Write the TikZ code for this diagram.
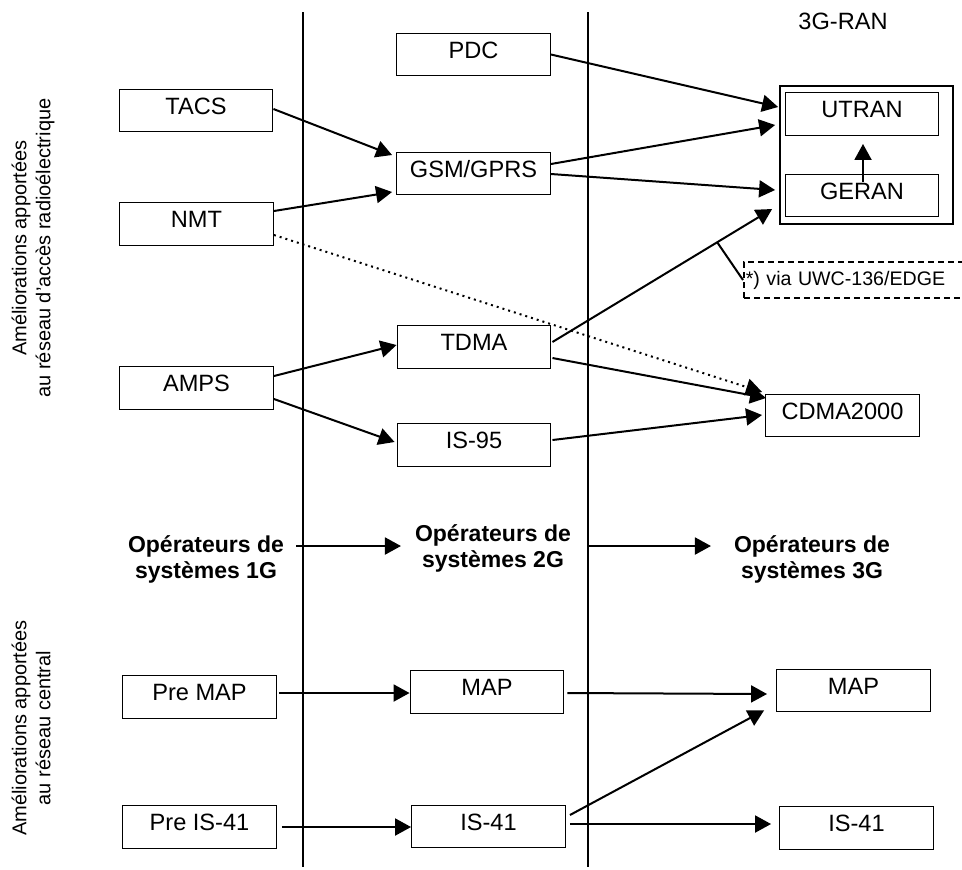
\documentclass[tikz,border=0pt]{standalone}
\usepackage{fontspec}
\setmainfont{Liberation Sans}
\usetikzlibrary{arrows.meta,calc}

\begin{document}
\begin{tikzpicture}[x=0.5pt,y=-0.5pt,
	box/.style={draw,line width=0.7pt,minimum width=76.75pt,minimum height=21.25pt,inner sep=0pt,text height=8.5pt,text depth=4.7pt,font=\fontsize{11.8}{13}\selectfont},
	arr/.style={line width=1pt,-{Triangle[length=8pt,width=8.5pt]}},
	ops/.style={align=center,font=\fontsize{11.5}{13}\selectfont\bfseries},
	side/.style={rotate=90,align=center,font=\fontsize{10}{12}\selectfont},
	note/.style={draw,dashed,dash pattern=on 3pt off 2pt,line width=0.8pt,text width=109pt,align=left,inner xsep=1pt,minimum height=18pt,font=\fontsize{9.8}{11}\selectfont}]
\useasboundingbox (0,0) rectangle (962,869);
\draw[line width=0.9pt] (303,12) -- (303,867);
\draw[line width=0.9pt] (588,12) -- (588,867);
\node[side] (radio) at (33,248) {Améliorations apportées\\au réseau d'accès radioélectrique};
\node[side] (core) at (31,728) {Améliorations apportées\\au réseau central};
% acces radio
\node[box] (tacs) at (196,110.5) {TACS};
\node[box] (nmt) at (196.5,224) {NMT};
\node[box] (amps) at (196.5,388) {AMPS};
\node[box] (pdc) at (473.5,54.5) {PDC};
\node[box] (gsm) at (473.5,173.5) {GSM/GPRS};
\node[box] (tdma) at (474,347) {TDMA};
\node[box] (is95) at (474,445) {IS-95};
\node[font=\fontsize{11.8}{13}\selectfont] (ranlbl) at (843,21) {3G-RAN};
\node[draw,line width=0.9pt,minimum width=86.5pt,minimum height=69pt] (ran) at (866.5,155) {};
\node[box] (utran) at (862,114) {UTRAN};
\node[box] (geran) at (862,195.5) {GERAN};
\node[box] (cdma) at (842.5,415.5) {CDMA2000};
\node[note,anchor=west] (note) at (743,280) {*) via UWC-136/EDGE};
\draw[arr] ($(tacs.east)+(0,-1.5)$) -- ($(gsm.west)+(-4,-18.5)$);
\draw[arr] ($(nmt.east)+(0,-13)$) -- ($(gsm.west)+(-4,18.5)$);
\draw[arr,dotted] ($(nmt.east)+(0,11)$) -- ($(cdma.west)+(-3,-23.5)$);
\draw[arr] ($(amps.east)+(0,-12)$) -- ($(tdma.west)+(0,-2)$);
\draw[arr] ($(amps.east)+(0,11)$) -- ($(is95.west)+(-2,-3)$);
\draw[arr] (pdc.east) -- ($(ran.west)+(-1,-48)$);
\draw[arr] ($(gsm.east)+(0,-9.5)$) -- ($(ran.west)+(-4,-30)$);
\draw[arr] ($(gsm.east)+(0,0.5)$) -- ($(ran.west)+(-4,35)$);
\draw[arr] ($(tdma.east)+(1,-5)$) -- coordinate[pos=0.75] (lead) ($(ran.west)+(-7,54)$);
\draw[arr] ($(tdma.east)+(1,11)$) -- ($(cdma.west)+(1,-17.5)$);
\draw[arr] ($(is95.east)+(1,-5)$) -- ($(cdma.west)+(-3,-0.5)$);
\draw[arr] ($(geran.north)+(1,8)$) -- ($(utran.south)+(1,8)$);
\draw[line width=1pt] (lead) -- (note.west);
% operateurs
\node[ops] (op1) at (206,559) {Opérateurs de\\systèmes 1G};
\node[ops] (op2) at (493,548) {Opérateurs de\\systèmes 2G};
\node[ops] (op3) at (812,559) {Opérateurs de\\systèmes 3G};
\draw[arr] ($(op1.east)+(5,-13)$) -- ($(op2.west)+(-7,-2)$);
\draw[arr] ($(op2.east)+(9,-2)$) -- ($(op3.west)+(-16,-13)$);
% reseau central
\node[box] (premap) at (199.5,697) {Pre MAP};
\node[box] (preis) at (199.5,827) {Pre IS-41};
\node[box] (map2) at (487,692) {MAP};
\node[box] (is2) at (488.5,826.5) {IS-41};
\node[box] (map3) at (853.5,690.5) {MAP};
\node[box] (is3) at (856.5,828) {IS-41};
\draw[arr] ($(premap.east)+(2,-4)$) -- ($(map2.west)+(0,1)$);
\draw[arr] ($(map2.east)+(3,1)$) -- ($(map3.west)+(-9,3.5)$);
\draw[arr] ($(is2.east)+(4,-11.5)$) -- ($(map3.south west)+(-12,-2)$);
\draw[arr] ($(is2.east)+(4,-2.5)$) -- ($(is3.west)+(-8,-4)$);
\draw[arr] ($(preis.east)+(5,0)$) -- ($(is2.west)+(0,0.5)$);
\end{tikzpicture}
\end{document}
